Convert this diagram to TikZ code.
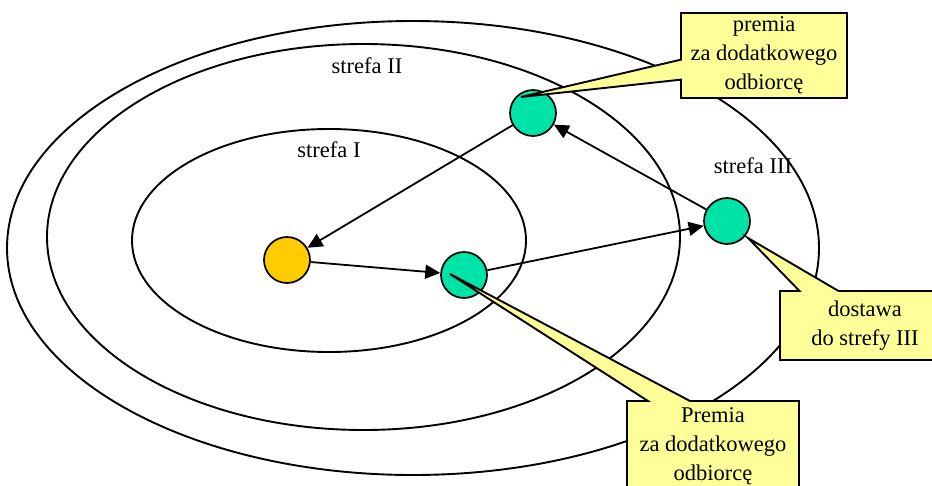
\documentclass[tikz,border=0pt]{standalone}
\usepackage{fontspec}
\setmainfont{Liberation Serif}
\usetikzlibrary{shapes.callouts,arrows.meta}
\definecolor{zloty}{HTML}{FFCC00}
\definecolor{zielony}{HTML}{00E3A8}
\definecolor{dymek}{HTML}{FFFF99}

\begin{document}
\begin{tikzpicture}[
	x=1pt, y=-1pt,
	font=\fontsize{22.5}{29}\selectfont,
	strefa/.style={
		draw,
		line width=1.9pt
	},
	punkt/.style={
		draw,
		circle,
		line width=1.7pt,
		minimum size=46pt,
		inner sep=0pt
	},
	opis/.style={
		rectangle callout,
		draw,
		fill=dymek,
		line width=1.9pt,
		align=center,
		inner sep=0pt
	},
	strz/.style={
		line width=1.8pt,
		-{Triangle[length=15pt,width=14pt]}
	}
	]
	\useasboundingbox (0,0) rectangle (932,485);

	% strefy
	\draw[strefa] (413,248) ellipse [x radius=406, y radius=227];
	\draw[strefa] (363.5,237) ellipse [x radius=316.5, y radius=193];
	\draw[strefa] (329,240.5) ellipse [x radius=197, y radius=111.5];

	\node (s1) at (329,150) {strefa I};
	\node (s2) at (367,66) {strefa II};
	\node (s3) at (753,166) {strefa III};

	% punkty
	\node[punkt, fill=zloty] (centrum) at (287,260) {};
	\node[punkt, fill=zielony] (odb1) at (533,113) {};
	\node[punkt, fill=zielony] (odb2) at (464,275) {};
	\node[punkt, fill=zielony] (odb3) at (727,221) {};

	\draw[strz] (centrum) -- (odb2);
	\draw[strz] (odb2) -- (odb3);
	\draw[strz] (odb3) -- (odb1);
	\draw[strz] (odb1) -- (centrum);

	% dymki
	\coordinate (w1) at (521,97);
	\coordinate (w2) at (450,274);
	\coordinate (w3) at (748,238);

	\node[opis, minimum width=166pt, minimum height=85pt,
		callout absolute pointer={(w1)}, callout pointer width=20pt]
		(premia1) at (764,55.5) {premia\\za dodatkowego\\odbiorcę};
	\node[opis, minimum width=170pt, minimum height=69pt,
		callout absolute pointer={(w3)}, callout pointer width=39pt]
		(dostawa) at (865,325.5) {dostawa\\do strefy III};
	\node[opis, minimum width=172pt, minimum height=90pt,
		callout absolute pointer={(w2)}, callout pointer width=42pt]
		(premia2) at (713,446) {Premia\\za dodatkowego\\odbiorcę};
\end{tikzpicture}
\end{document}
